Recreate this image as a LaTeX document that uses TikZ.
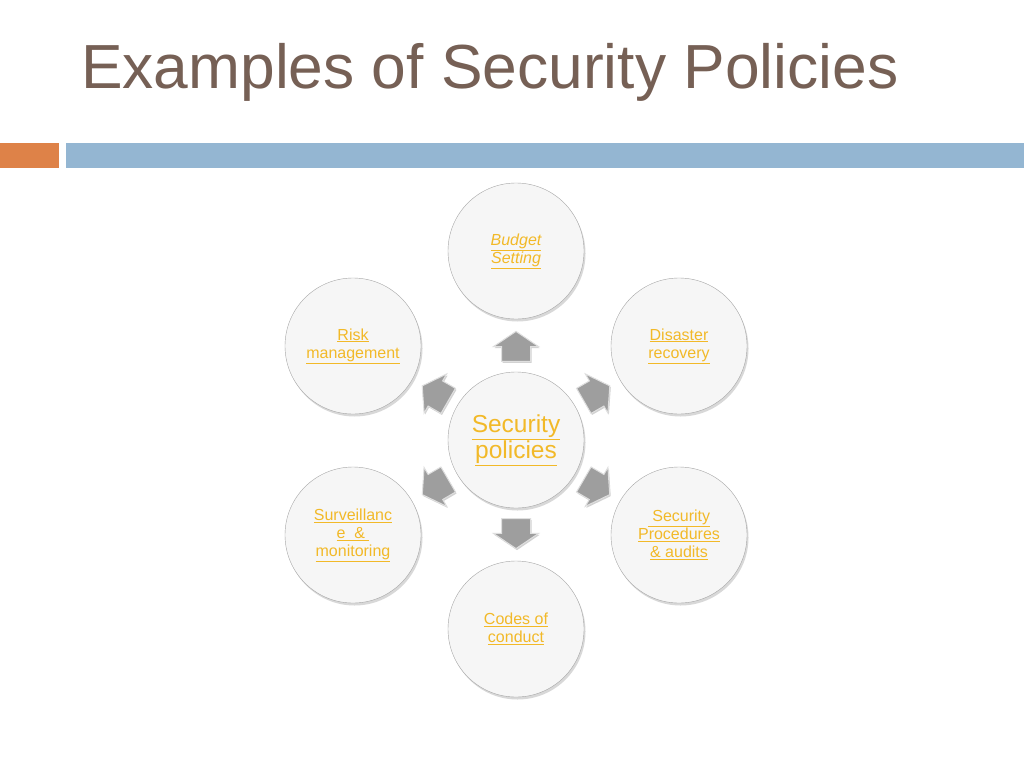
\documentclass[tikz,border=0pt]{standalone}
\usepackage{fontspec}
\setmainfont{Liberation Sans}
\usetikzlibrary{shapes.arrows}
\usetikzlibrary{shadows}
\definecolor{titleBrown}{RGB}{118,96,85}
\definecolor{linkGold}{RGB}{242,185,40}
\definecolor{barOrange}{RGB}{222,130,72}
\definecolor{barBlue}{RGB}{148,182,210}
\definecolor{arrowGray}{RGB}{158,158,158}
\definecolor{bubbleFill}{RGB}{246,246,246}

\begin{document}
\begin{tikzpicture}
[x=1pt,y=-1pt,%
  bubbleDecorate/.style={shape=circle,minimum size=136pt,inner sep=0pt,draw=gray!70,fill=bubbleFill,
    drop shadow={shadow xshift=1.5pt,shadow yshift=-2.5pt,opacity=0.3},
    text=linkGold,align=center,font=\fontsize{16}{18}\selectfont},%
  arrowDecorate/.style={single arrow,single arrow head extend=8pt,single arrow tip angle=112,
    minimum height=30pt,inner xsep=0pt,inner ysep=14pt,fill=arrowGray,draw=gray!25,line width=1pt,
    drop shadow={shadow xshift=1pt,shadow yshift=-1.5pt,opacity=0.35},sloped,allow upside down}]
\useasboundingbox[fill=white] (0,0) rectangle (1024,768);
%% title and bars
\node[anchor=base west,inner sep=0pt,text=titleBrown,font=\fontsize{62.3}{70}\selectfont] (title) at (81,88) {Examples of Security Policies};
\fill[barOrange] (0,143) rectangle (59,168);
\fill[barBlue] (66,143) rectangle (1024,168);
%% centre bubble
\node[bubbleDecorate,font=\fontsize{24.5}{26}\selectfont] (sec) at (516,440) {\underline{Security}\\\underline{policies}};
%% outer bubbles
\foreach \nodename/\x/\y/\txt in {
  bud/516/251/{\textit{\underline{Budget}}\\\textit{\underline{Setting}}},
  dis/679/346/{\underline{Disaster}\\\underline{recovery}},
  proc/679/535/{\underline{\ Security}\\\underline{Procedures}\\\underline{\&\ audits}},
  code/516/629/{\underline{Codes of}\\\underline{conduct}},
  surv/353/535/{\underline{Surveillanc}\\\underline{e\ \ \&\ }\\\underline{monitoring}},
  risk/353/346/{\underline{Risk}\\\underline{management}}}
{
  \node[bubbleDecorate] (\nodename) at (\x,\y) {\txt};
}
%% block arrows from centre to each bubble
\foreach \nodename in {bud,dis,proc,code,surv,risk}
{
  \path (sec) -- (\nodename) node[pos=0.39,arrowDecorate] {};
}
\end{tikzpicture}
\end{document}
